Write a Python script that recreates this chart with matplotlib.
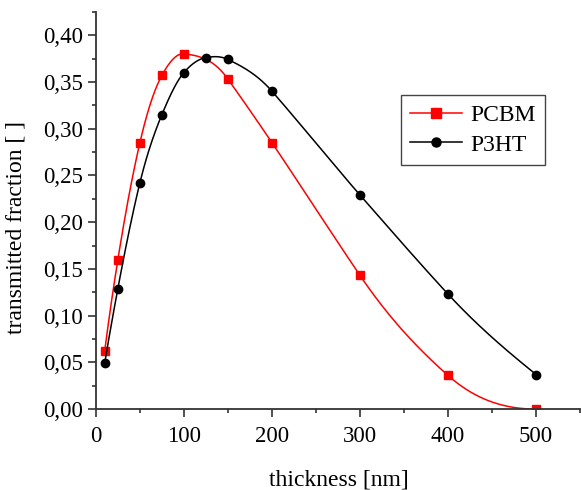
import numpy as np
import matplotlib
matplotlib.use('Agg')
import matplotlib.pyplot as plt
from matplotlib.ticker import MultipleLocator, FuncFormatter
from matplotlib.lines import Line2D

# data
pcbm_x = [10, 25, 50, 75, 100, 150, 200, 300, 400, 500]
pcbm_y = [0.062, 0.160, 0.285, 0.357, 0.380, 0.353, 0.285, 0.143, 0.036, 0.0]
p3ht_x = [10, 25, 50, 75, 100, 125, 150, 200, 300, 400, 500]
p3ht_y = [0.049, 0.129, 0.242, 0.315, 0.360, 0.376, 0.374, 0.340, 0.229, 0.123, 0.037]


# Akima spline, close to Origin's smooth connection
def akima(x, y, n=500):
    x = np.asarray(x, float)
    y = np.asarray(y, float)
    m = np.diff(y) / np.diff(x)
    mm = np.concatenate([[3 * m[0] - 2 * m[1], 2 * m[0] - m[1]], m,
                         [2 * m[-1] - m[-2], 3 * m[-1] - 2 * m[-2]]])
    dm = np.abs(np.diff(mm))
    w1 = dm[2:]
    w2 = dm[:-2]
    t = np.where(w1 + w2 > 1e-12,
                 (w1 * mm[1:-2] + w2 * mm[2:-1]) / np.where(w1 + w2 > 1e-12, w1 + w2, 1),
                 0.5 * (mm[1:-2] + mm[2:-1]))
    xs = np.linspace(x[0], x[-1], n)
    k = np.clip(np.searchsorted(x, xs) - 1, 0, len(x) - 2)
    h = x[k + 1] - x[k]
    s = (xs - x[k]) / h
    h00 = 2 * s**3 - 3 * s**2 + 1
    h10 = s**3 - 2 * s**2 + s
    h01 = -2 * s**3 + 3 * s**2
    h11 = s**3 - s**2
    ys = h00 * y[k] + h10 * h * t[k] + h01 * y[k + 1] + h11 * h * t[k + 1]
    return xs, ys


plt.rcParams['font.family'] = ['Liberation Serif', 'DejaVu Serif']

fig = plt.figure(figsize=(5.81, 4.90), dpi=100)
ax = fig.add_axes([0.165, 0.165, 0.835, 0.811])

sx, sy = akima(pcbm_x, pcbm_y)
ax.plot(sx, sy, color='red', lw=1.1)
ax.plot(pcbm_x, pcbm_y, 's', color='red', ms=5.5)
sx, sy = akima(p3ht_x, p3ht_y)
ax.plot(sx, sy, color='black', lw=1.1)
ax.plot(p3ht_x, p3ht_y, 'o', color='black', ms=6)

ax.set_xlim(0, 551)
ax.set_ylim(0, 0.425)
ax.xaxis.set_major_locator(MultipleLocator(100))
ax.xaxis.set_minor_locator(MultipleLocator(50))
ax.yaxis.set_major_locator(MultipleLocator(0.05))
ax.yaxis.set_minor_locator(MultipleLocator(0.025))
ax.yaxis.set_major_formatter(FuncFormatter(lambda v, p: f'{v:.2f}'.replace('.', ',')))
for s in ['top', 'right']:
    ax.spines[s].set_visible(False)
for s in ['left', 'bottom']:
    ax.spines[s].set_color('#333333')
    ax.spines[s].set_linewidth(1.3)
ax.tick_params(which='major', direction='out', length=5.5, width=1.2, color='#333333', labelsize=16.5)
ax.tick_params(which='minor', direction='out', length=3, width=1.2, color='#333333')
ax.tick_params(axis='x', which='major', pad=6.5)
ax.tick_params(axis='y', which='major', pad=3.5)

ax.set_xlabel('thickness [nm]', fontsize=17, labelpad=16)
ax.set_ylabel('transmitted fraction [ ]', fontsize=17)
ax.yaxis.set_label_coords(-0.142, 0.458)

h1 = Line2D([], [], color='red', lw=1.1, marker='s', ms=6.5)
h2 = Line2D([], [], color='black', lw=1.1, marker='o', ms=6.5)
leg = ax.legend([h1, h2], ['PCBM', 'P3HT'], loc='upper left',
                bbox_to_anchor=(401 / 581, 1 - 95 / 490), bbox_transform=fig.transFigure,
                borderaxespad=0, fancybox=False, edgecolor='#444444', framealpha=1,
                fontsize=17, handlelength=2.2, borderpad=0.4, labelspacing=0.35,
                handletextpad=0.35)
leg.get_frame().set_linewidth(1.0)

fig.savefig('out.png', dpi=100)
